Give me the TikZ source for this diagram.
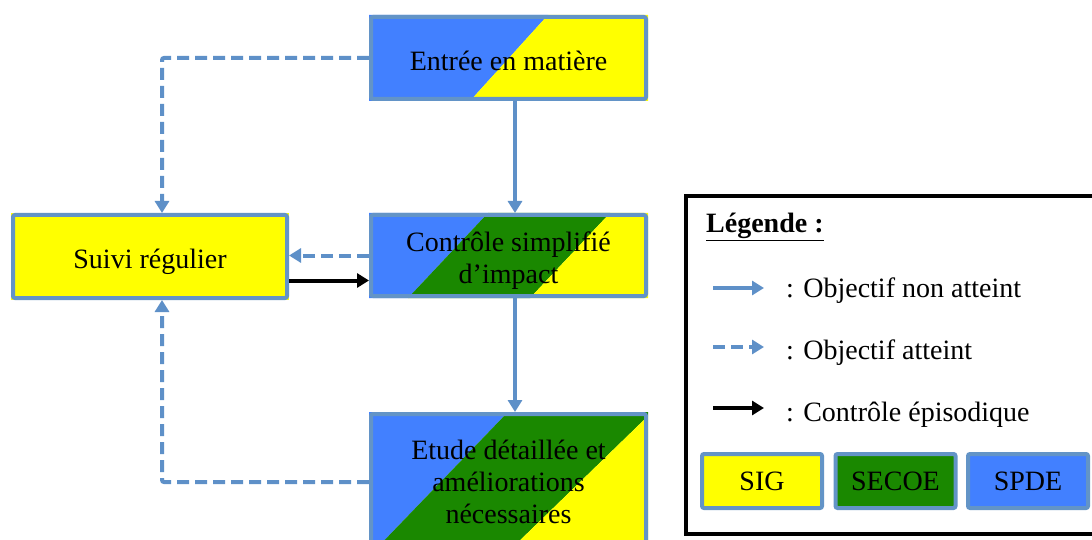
\documentclass[tikz,border=0pt]{standalone}
\usepackage{fontspec}
\setmainfont{Liberation Serif}
\usetikzlibrary{arrows.meta}
\definecolor{cblue}{RGB}{66,128,255}
\definecolor{cgreen}{RGB}{26,136,0}
\definecolor{cyellow}{RGB}{255,255,0}
\definecolor{cborder}{RGB}{99,148,199}
\definecolor{carrow}{RGB}{94,144,200}
\tikzset{
  x=1pt, y=-1pt,
  every node/.style={font=\fontsize{28}{32}\selectfont, text=black, inner sep=0pt},
  every label/.style={font=\fontsize{28}{32}\selectfont, text=black, inner sep=0pt, align=center},
  flowbox/.style={draw=cborder, line width=4pt, rounded corners=2pt, align=center},
  solidarrow/.style={draw=carrow, line width=4pt, -{Triangle[width=14pt,length=12pt]}},
  dasharrow/.style={draw=carrow, line width=4pt, rounded corners=2pt, dash pattern=on 12pt off 6pt, -{Triangle[width=14pt,length=12pt]}},
  blackarrow/.style={draw=black, line width=4pt, -{Triangle[width=14pt,length=12pt]}},
  legendbox/.style={draw=cborder, line width=4pt, rounded corners=2pt, minimum width=120pt, minimum height=54pt},
}
\begin{document}
\begin{tikzpicture}
\clip (0,0) rectangle (1092,540);
\fill[white] (0,0) rectangle (1092,540);

% fills
\fill[cblue] (369,15) -- (548,15) -- (470,101) -- (369,101) -- cycle;
\fill[cyellow] (548,15) -- (648,15) -- (648,101) -- (470,101) -- cycle;

\fill[cblue] (369,213) -- (488,213) -- (408,298) -- (369,298) -- cycle;
\fill[cgreen] (488,213) -- (610,213) -- (530,298) -- (408,298) -- cycle;
\fill[cyellow] (610,213) -- (648,213) -- (648,298) -- (530,298) -- cycle;

\fill[cblue] (369,412) -- (508,412) -- (375,550) -- (369,550) -- cycle;
\fill[cgreen] (508,412) -- (648,412) -- (648,416) -- (510,550) -- (375,550) -- cycle;
\fill[cyellow] (648,416) -- (648,550) -- (510,550) -- cycle;

\fill[cyellow] (11,213) rectangle (289,300);

% nodes
\node[flowbox, minimum width=275pt, minimum height=82pt,
  label={[yshift=-3pt]center:Entrée en matière}] (entree) at (508.5,58) {};
\node[flowbox, minimum width=275pt, minimum height=81pt,
  label={[yshift=-5pt]center:Contrôle simplifié\\d’impact}] (controle) at (508.5,255.5) {};
\node[flowbox, minimum width=275pt, minimum height=134pt,
  label={[yshift=-1pt]center:Etude détaillée et\\améliorations\\nécessaires}] (etude) at (508.5,481) {};
\node[flowbox, minimum width=274pt, minimum height=83pt,
  label={[yshift=-5pt]center:Suivi régulier}] (suivi) at (150,256.5) {};

% connectors
\draw[solidarrow] ([xshift=6.5pt]entree.south) -- ([xshift=6.5pt]controle.north);
\draw[solidarrow] ([xshift=6.5pt]controle.south) -- ([xshift=6.5pt]etude.north);
\draw[dasharrow] (entree.west) -| ([xshift=12pt]suivi.north);
\draw[dasharrow] (controle.west) -- (suivi.east |- controle.west);
\coordinate (bstart) at ([yshift=-24pt]suivi.east);
\draw[blackarrow] (bstart) -- (controle.west |- bstart);
\draw[dasharrow] ([yshift=-1pt]etude.west) -| ([xshift=12pt]suivi.south);

% legend
\node[draw=black, line width=4pt, minimum width=424pt, minimum height=338pt] (legend) at (898,365) {};
\node[anchor=west, font=\fontsize{28}{32}\selectfont\bfseries] (legtitle) at (706,227) {\underline{Légende :}};

\coordinate (l1s) at (713,288); \coordinate (l1e) at (764,288);
\coordinate (l2s) at (713,347); \coordinate (l2e) at (764,347);
\coordinate (l3s) at (713,408); \coordinate (l3e) at (764,408);
\draw[solidarrow] (l1s) -- (l1e);
\draw[dasharrow] (l2s) -- (l2e);
\draw[blackarrow] (l3s) -- (l3e);
\node[anchor=west] (t1) at (786,291) {: Objectif non atteint};
\node[anchor=west] (t2) at (786,353) {: Objectif atteint};
\node[anchor=west] (t3) at (786,415) {: Contrôle épisodique};

\node[legendbox, fill=cyellow] (sig) at (762,481) {SIG};
\node[legendbox, fill=cgreen] (secoe) at (895.5,481) {SECOE};
\node[legendbox, fill=cblue] (spde) at (1028,481) {SPDE};
\end{tikzpicture}
\end{document}
